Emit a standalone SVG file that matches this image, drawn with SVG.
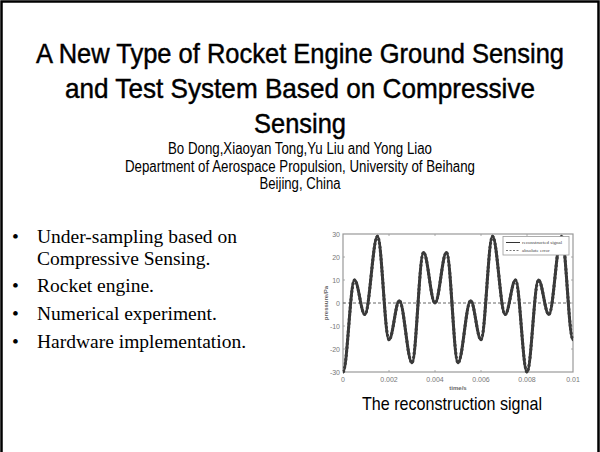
<svg xmlns="http://www.w3.org/2000/svg" width="600" height="452" viewBox="0 0 600 452">
<style>
.title{font-family:"Liberation Sans Narrow","Liberation Sans",Arial,sans-serif;font-size:28px;fill:#000;text-anchor:middle;stroke:#000;stroke-width:0.45}
.sub{font-family:"Liberation Sans Narrow","Liberation Sans",Arial,sans-serif;font-size:16px;fill:#000;text-anchor:middle}
.bul{font-family:"Liberation Serif","Times New Roman",serif;font-size:19.5px;fill:#000}
.tick{font-family:"Liberation Sans",Arial,sans-serif;font-size:7px;fill:#777}
.leg{font-family:"Liberation Serif",serif;font-size:5px;fill:#444}
.cap{font-family:"Liberation Sans Narrow","Liberation Sans",Arial,sans-serif;font-size:19px;fill:#000;text-anchor:middle}
</style>
<rect x="0" y="0" width="600" height="452" fill="#fff"/>
<path d="M1.5,460 V1.5 H598.5 V460" fill="none" stroke="#000" stroke-width="2.5"/>

<g id="title">
<text class="title" x="300" y="63" textLength="528" lengthAdjust="spacingAndGlyphs">A New Type of Rocket Engine Ground Sensing</text>
<text class="title" x="300" y="98" textLength="470" lengthAdjust="spacingAndGlyphs">and Test System Based on Compressive</text>
<text class="title" x="300" y="133" textLength="92" lengthAdjust="spacingAndGlyphs">Sensing</text>
</g>
<g id="authors">
<text class="sub" x="300" y="154" textLength="264" lengthAdjust="spacingAndGlyphs">Bo Dong,Xiaoyan Tong,Yu Liu and Yong Liao</text>
<text class="sub" x="300" y="171.5" textLength="350" lengthAdjust="spacingAndGlyphs">Department of Aerospace Propulsion, University of Beihang</text>
<text class="sub" x="300" y="189" textLength="81" lengthAdjust="spacingAndGlyphs">Beijing, China</text>
</g>

<g id="bullets" class="bul">
<text x="12" y="243">•</text><text x="37" y="243">Under-sampling based on</text>
<text x="37" y="265">Compressive Sensing.</text>
<text x="12" y="292">•</text><text x="37" y="292">Rocket engine.</text>
<text x="12" y="320">•</text><text x="37" y="320">Numerical experiment.</text>
<text x="12" y="348">•</text><text x="37" y="348">Hardware implementation.</text>
</g>

<g id="plot">
<rect x="343" y="234" width="230" height="138" fill="#fff" stroke="#999" stroke-width="1.2"/>
<g stroke="#999" stroke-width="0.8">
<path d="M343,257h2M343,280h2M343,303h2M343,326h2M343,349h2M573,257h-2M573,280h-2M573,303h-2M573,326h-2M573,349h-2"/>
<path d="M389,372v-2M435,372v-2M481,372v-2M527,372v-2M389,234v2M435,234v2M481,234v2M527,234v2"/>
</g>
<g class="tick" text-anchor="end">
<text x="340" y="236.5">30</text><text x="340" y="259.5">20</text><text x="340" y="282.5">10</text><text x="340" y="305.5">0</text>
<text x="340" y="328.5">-10</text><text x="340" y="351.5">-20</text><text x="340" y="374.5">-30</text>
</g>
<g class="tick" text-anchor="middle">
<text x="343" y="382">0</text><text x="389" y="382">0.002</text><text x="435" y="382">0.004</text><text x="481" y="382">0.006</text><text x="527" y="382">0.008</text><text x="573" y="382">0.01</text>
<text x="458" y="390" font-size="6" font-weight="bold" fill="#666">time/s</text>
<text x="0" y="0" font-size="6" font-weight="bold" fill="#666" transform="translate(328,303) rotate(-90)">pressure/Pa</text>
</g>
<path d="M343,303H573" fill="none" stroke="#666" stroke-width="1" stroke-dasharray="3,2"/>
<path id="signal" fill="none" stroke="#3a3a3a" stroke-width="3" stroke-linejoin="round" d="M343,372 C347.18,372 350.32,280 354.5,280 C358.26,280 361.09,314.5 364.85,314.5 C369.45,314.5 372.9,236.3 377.5,236.3 C381.68,236.3 384.82,339.8 389,339.8 C392.76,339.8 395.59,300.7 399.35,300.7 C403.95,300.7 407.4,362.8 412,362.8 C416.18,362.8 419.32,252.4 423.5,252.4 C427.68,252.4 430.82,303 435,303 C439.18,303 442.32,252.4 446.5,252.4 C450.68,252.4 453.82,362.8 458,362.8 C462.6,362.8 466.05,300.7 470.65,300.7 C474.41,300.7 477.24,339.8 481,339.8 C485.18,339.8 488.32,236.3 492.5,236.3 C497.1,236.3 500.55,314.5 505.15,314.5 C508.91,314.5 511.74,280 515.5,280 C519.68,280 522.82,372 527,372 C531.18,372 534.32,280 538.5,280 C542.26,280 545.09,314.5 548.85,314.5 C553.45,314.5 556.9,236.3 561.5,236.3 C565.68,236.3 568.82,339.8 573,339.8"/>
<use href="#signal" stroke="#8a8a8a" stroke-width="0.9" stroke-dasharray="2,2"/>
<g id="legend">
<rect x="503" y="236.5" width="66" height="18.5" fill="#fff" stroke="#999" stroke-width="0.8"/>
<path d="M506,242.5H520" stroke="#333" stroke-width="1"/>
<path d="M506,250.5H520" stroke="#555" stroke-width="0.8" stroke-dasharray="2,1.5"/>
<text class="leg" x="522" y="244">reconstructed signal</text>
<text class="leg" x="522" y="252">absolute error</text>
</g>
</g>
<text class="cap" x="452" y="410" textLength="180" lengthAdjust="spacingAndGlyphs">The reconstruction signal</text>
</svg>
